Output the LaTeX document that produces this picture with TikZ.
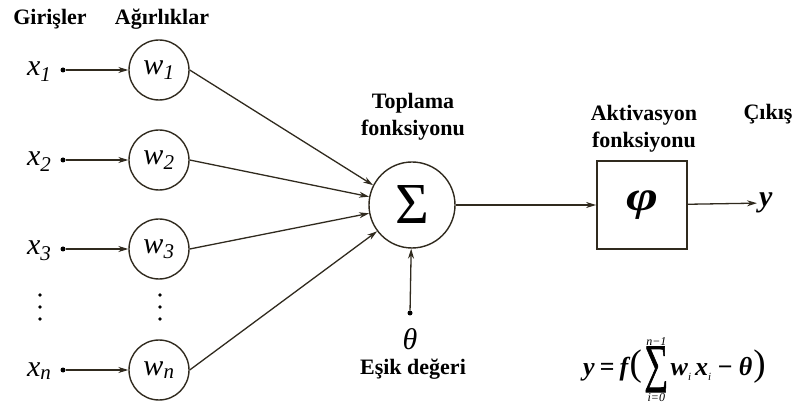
\documentclass[tikz,border=0pt]{standalone}
\usepackage{fontspec}
\setmainfont{Liberation Serif}
\newfontfamily\sumfont{Liberation Serif}[FakeBold=1.5]
\usetikzlibrary{arrows.meta}
\definecolor{inkline}{RGB}{48,42,30}
\newcommand{\lowsub}[1]{\raisebox{-5pt}{\fontsize{11}{11}\selectfont\mdseries\itshape #1}}

\begin{document}
\begin{tikzpicture}[>={Stealth[length=10pt,width=6pt]}, x=1pt, y=-1pt,
    link/.style={->, draw=inkline, line width=1.3pt},
    weight/.style={draw=inkline, line width=1.4pt, circle, minimum size=60pt, inner sep=0pt, font=\fontsize{30}{30}\selectfont\itshape},
    inputdot/.style={circle, fill=black, minimum size=5pt, inner sep=0pt},
    heading/.style={font=\fontsize{22}{27}\selectfont\bfseries, align=center},
    sym/.style={font=\fontsize{30}{30}\selectfont\itshape},
    eqfont/.style={font=\fontsize{26}{30}\selectfont\bfseries\itshape, anchor=base west, inner sep=0pt},
    limfont/.style={font=\fontsize{12}{12}\selectfont\itshape, inner sep=1pt}]
        \useasboundingbox (0,0) rectangle (798,403);

        % Column headings
        \node[heading] (hin) at (50,19) {Girişler};
        \node[heading] (hw) at (162,19) {Ağırlıklar};

        % Inputs and weights
        \foreach \i/\yy in {1/70, 2/160, 3/249, n/370} {
            \node[sym, anchor=base east] (x\i) at (55,\yy+6) {x\textsubscript{\i}};
            \node[inputdot] (d\i) at (63,\yy) {};
            \node[weight] (w\i) at (159,\yy) {w\textsubscript{\i}};
            \draw[link] (d\i) -- (w\i);
        }
        \foreach \xx in {40,160}
            \foreach \yy in {295,307,319}
                \fill[black] (\xx,\yy) circle (1.8pt);

        % Summation
        \node[draw=inkline, line width=1.4pt, circle, minimum size=86pt, inner sep=0pt, font=\fontsize{58}{58}\selectfont] (sum) at (412,205) {Σ};
        \node[heading] (hsum) at (413,117) {Toplama\\fonksiyonu};
        \foreach \i/\a in {1/153, 2/169, 3/191, n/217}
            \draw[link] (w\i.east) -- (sum.\a);

        % Threshold
        \node[inputdot] (th) at (410,313) {};
        \draw[link] (th) -- (sum);
        \node[sym] (theta) at (410,339) {θ};
        \node[heading] (hth) at (413,369) {Eşik değeri};

        % Activation
        \node[draw=inkline, line width=1.8pt, minimum width=90pt, minimum height=88pt, inner sep=0pt, font=\fontsize{42}{42}\selectfont\bfseries\itshape] (act) at (642,205) {\scalebox{1.3}[1]{φ}};
        \node[heading] (hact) at (644,129) {Aktivasyon\\fonksiyonu};
        \draw[link] (sum) -- (act);

        % Output
        \node[sym, font=\fontsize{30}{30}\selectfont\bfseries\itshape, anchor=west, inner sep=2pt] (y) at (757,203) {y};
        \node[heading] (hout) at (768,114) {Çıkış};
        \draw[link] (act) -- (y);

        % Formula
        \node[eqfont] (eqa) at (583,375) {y\hspace{5pt}=\hspace{5pt}f};
        \node[eqfont, font=\fontsize{37}{37}\selectfont] (eqp) at ([xshift=1pt]eqa.base east) {(};
        \node[eqfont, font=\fontsize{42}{42}\selectfont\sumfont] (sig) at ([xshift=2pt,yshift=-6pt]eqp.base east) {\scalebox{0.8}[1.25]{∑}};
        \node[limfont, anchor=south] (sigtop) at (sig.north) {n−1};
        \node[limfont, anchor=north] (sigbot) at (sig.south) {i=0};
        \node[eqfont] (eqb) at ([xshift=2pt,yshift=6pt]sig.base east)
            {w\lowsub{i}\hspace{4pt}x\lowsub{i}\hspace{6pt}−\hspace{6pt}θ\hspace{1pt}{\fontsize{37}{37}\selectfont\mdseries\upshape )}};
\end{tikzpicture}
\end{document}
